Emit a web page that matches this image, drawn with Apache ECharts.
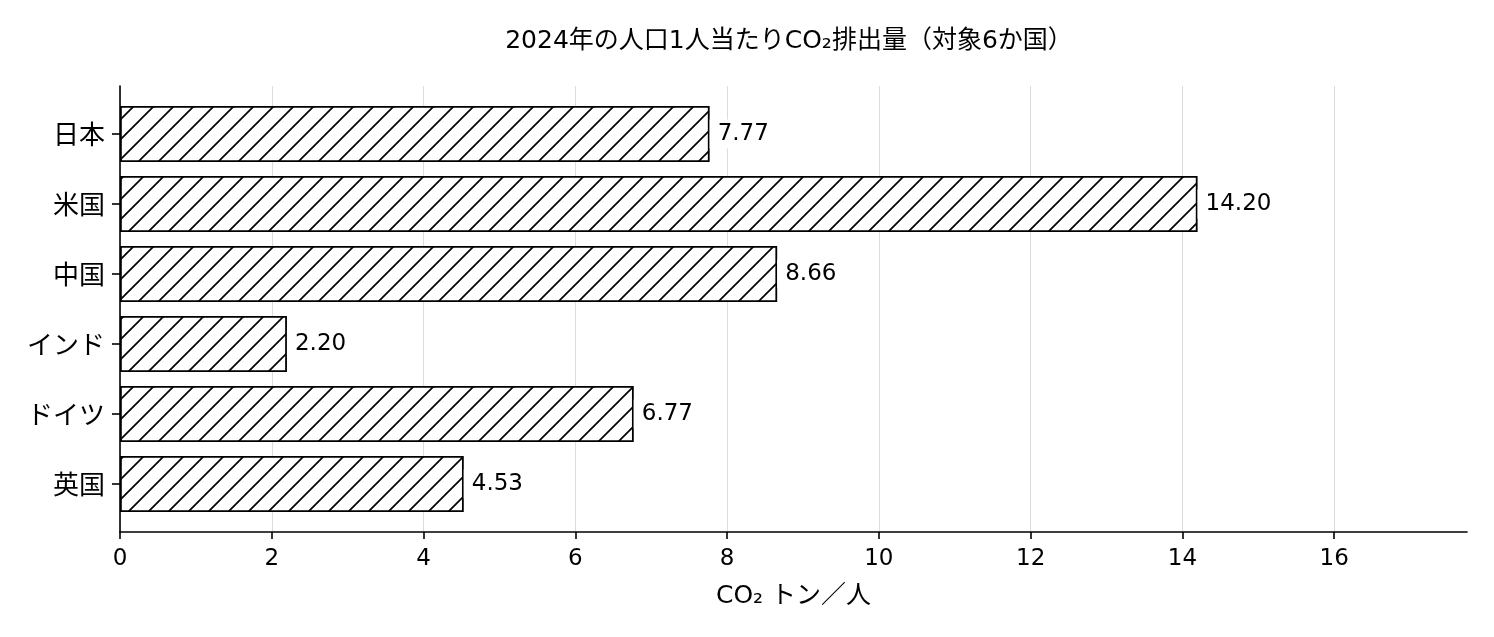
<!DOCTYPE html>
<html>
<head>
<meta charset="utf-8">
<script src="https://cdn.jsdelivr.net/npm/echarts@6/dist/echarts.min.js"></script>
<style>
  html, body { margin: 0; padding: 0; background: #fff; }
  #chart { width: 1494px; height: 637px; }
</style>
</head>
<body>
<div id="chart"></div>
<script>
const countries = ['日本', '米国', '中国', 'インド', 'ドイツ', '英国'];
const perCapita = [7.77, 14.20, 8.66, 2.20, 6.77, 4.53];
const xTickValues = [0, 2, 4, 6, 8, 10, 12, 14, 16];
const xMax = 17.75;

const FONT = '"DejaVu Sans", "Noto Sans CJK JP", sans-serif';
const CJK_FONT = '"Noto Sans CJK JP", "DejaVu Sans", sans-serif';

// 斜線ハッチのタイル
const makeHatch = () => {
    const size = 20;
    const c = document.createElement('canvas');
    c.width = size;
    c.height = size;
    const ctx = c.getContext('2d');
    ctx.fillStyle = '#fff';
    ctx.fillRect(0, 0, size, size);
    ctx.strokeStyle = '#000';
    ctx.lineWidth = 1.7;
    ctx.beginPath();
    ctx.moveTo(-2, size + 2); ctx.lineTo(size + 2, -2);
    ctx.moveTo(-2, 2); ctx.lineTo(2, -2);
    ctx.moveTo(size - 2, size + 2); ctx.lineTo(size + 2, size - 2);
    ctx.stroke();
    return c;
};

const chart = echarts.init(document.getElementById('chart'));

chart.setOption({
    animation: false,
    backgroundColor: '#fff',
    title: {
        text: '2024年の人口1人当たりCO₂排出量（対象6か国）',
        left: 784,
        top: 24,
        textAlign: 'center',
        textStyle: { fontFamily: FONT, fontSize: 25, fontWeight: 'normal', color: '#000' }
    },
    grid: [
        { left: 120, right: 27, top: 86, bottom: 105 },
        { left: 120, right: 27, top: 99, bottom: 118 }
    ],
    xAxis: [
        {
            gridIndex: 0,
            type: 'value',
            min: 0,
            max: xMax,
            name: 'CO₂ トン／人',
            nameLocation: 'middle',
            nameGap: 52,
            nameTextStyle: { fontFamily: FONT, fontSize: 25, color: '#000' },
            axisLine: { show: true, lineStyle: { color: '#000', width: 1.6 } },
            axisTick: { show: true, length: 7, lineStyle: { color: '#000', width: 1.6 }, customValues: xTickValues },
            axisLabel: { margin: 16, fontFamily: FONT, fontSize: 23, color: '#000', customValues: xTickValues },
            splitLine: { show: true, lineStyle: { color: '#dcdcdc', width: 1 } }
        },
        {
            gridIndex: 1,
            type: 'value',
            min: 0,
            max: xMax,
            show: false
        }
    ],
    yAxis: [
        {
            gridIndex: 0,
            type: 'value',
            axisLine: { show: true, lineStyle: { color: '#000', width: 1.6 } },
            axisTick: { show: false },
            axisLabel: { show: false },
            splitLine: { show: false }
        },
        {
            gridIndex: 1,
            type: 'category',
            inverse: true,
            data: countries,
            axisLine: { show: false },
            axisTick: { show: true, alignWithLabel: true, length: 8, lineStyle: { color: '#000', width: 1.6 } },
            axisLabel: { margin: 15, fontFamily: CJK_FONT, fontSize: 26, color: '#000' },
            splitLine: { show: false }
        }
    ],
    series: [{
        type: 'bar',
        xAxisIndex: 1,
        yAxisIndex: 1,
        data: perCapita,
        barWidth: '80%',
        itemStyle: {
            color: { image: makeHatch(), repeat: 'repeat' },
            borderColor: '#000',
            borderWidth: 1.8
        },
        label: {
            show: true,
            position: 'right',
            distance: 0,
            formatter: p => p.value.toFixed(2),
            fontFamily: FONT,
            fontSize: 23,
            lineHeight: 23,
            color: '#000',
            backgroundColor: '#fff',
            padding: [3, 8]
        }
    }]
});
</script>
</body>
</html>
